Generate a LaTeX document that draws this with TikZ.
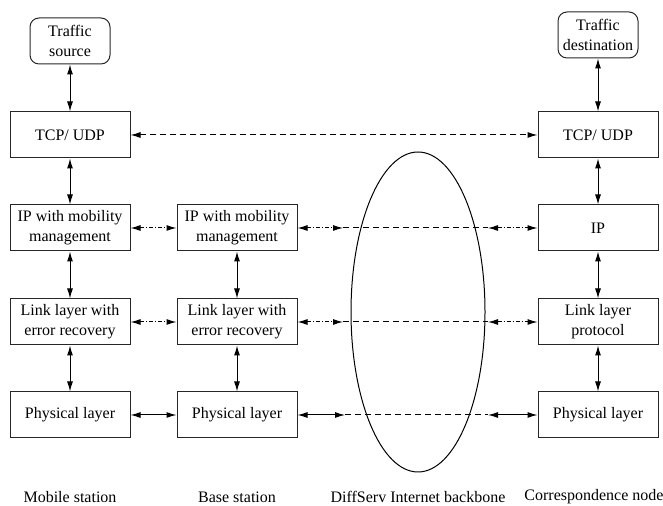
\documentclass[tikz,border=0pt]{standalone}
\usepackage{fontspec}
\setmainfont{Liberation Serif}
\usetikzlibrary{arrows.meta,shapes.geometric}
\begin{document}
\begin{tikzpicture}[x=0.5pt,y=-0.5pt,
  font=\fontsize{8}{10}\selectfont,
  line width=0.5pt,
  box/.style={draw=black!85, minimum width=60pt, minimum height=23pt, inner sep=1pt, align=center},
  rbox/.style={draw=black!85, rounded corners=4.5pt, minimum width=40pt, minimum height=23pt, inner sep=1pt, align=center},
  dbl/.style={{Latex[length=5pt,width=3pt]}-{Latex[length=5pt,width=3pt]}},
  dd/.style={dash pattern=on 2pt off 1pt on 0.5pt off 1pt},
  ds/.style={dash pattern=on 3pt off 2pt},
  lbl/.style={inner sep=0pt}]
\useasboundingbox (0,0) rectangle (663,506);

% mobile station
\node[rbox] (ts) at (70,41) {Traffic\\source};
\node[box] (tcp1) at (70,135) {TCP/ UDP};
\node[box] (ip1) at (70,228) {IP with mobility\\management};
\node[box] (ll1) at (70,322) {Link layer with\\error recovery};
\node[box] (ph1) at (70,415) {Physical layer};

% base station
\node[box] (ip2) at (237,228) {IP with mobility\\management};
\node[box] (ll2) at (237,322) {Link layer with\\error recovery};
\node[box] (ph2) at (237,415) {Physical layer};

% correspondence node
\node[rbox] (td) at (598,35) {Traffic\\destination};
\node[box] (tcp3) at (598,135) {TCP/ UDP};
\node[box] (ip3) at (598,228) {IP};
\node[box] (ll3) at (598,322) {Link layer\\protocol};
\node[box] (ph3) at (598,415) {Physical layer};

% backbone
\node[draw, ellipse, minimum width=67pt, minimum height=160pt, inner sep=0pt] (bb) at (418,312) {};

% verticals
\draw[dbl] (ts) -- (tcp1);
\draw[dbl] (tcp1) -- (ip1);
\draw[dbl] (ip1) -- (ll1);
\draw[dbl] (ll1) -- (ph1);
\draw[dbl] (ip2) -- (ll2);
\draw[dbl] (ll2) -- (ph2);
\draw[dbl] (td) -- (tcp3);
\draw[dbl] (tcp3) -- (ip3);
\draw[dbl] (ip3) -- (ll3);
\draw[dbl] (ll3) -- (ph3);

% horizontals
\draw[dbl, ds] (tcp1) -- (tcp3);
\draw[dbl, dd] (ip1) -- (ip2);
\draw[dbl, dd] (ll1) -- (ll2);
\draw[dbl] (ph1) -- (ph2);

\coordinate (ipa) at (343,228);
\coordinate (ipb) at (488,228);
\coordinate (lla) at (343,322);
\coordinate (llb) at (488,322);
\coordinate (pha) at (345,415);
\coordinate (phb) at (488,415);

\draw[dbl, dd] (ip2.east) -- (ipa);
\draw[ds] (ipa) -- (ipb);
\draw[dbl, dd] (ipb) -- (ip3.west);
\draw[dbl, dd] (ll2.east) -- (lla);
\draw[ds] (lla) -- (llb);
\draw[dbl, dd] (llb) -- (ll3.west);
\draw[dbl] (ph2.east) -- (pha);
\draw[ds] (pha) -- (phb);
\draw[dbl] (phb) -- (ph3.west);

% labels
\node[lbl] (l1) at (70,497) {Mobile station};
\node[lbl] (l2) at (237,497) {Base station};
\node[lbl] (l3) at (418,497) {DiffServ Internet backbone};
\node[lbl] (l4) at (594,497) {Correspondence node};
\end{tikzpicture}
\end{document}
